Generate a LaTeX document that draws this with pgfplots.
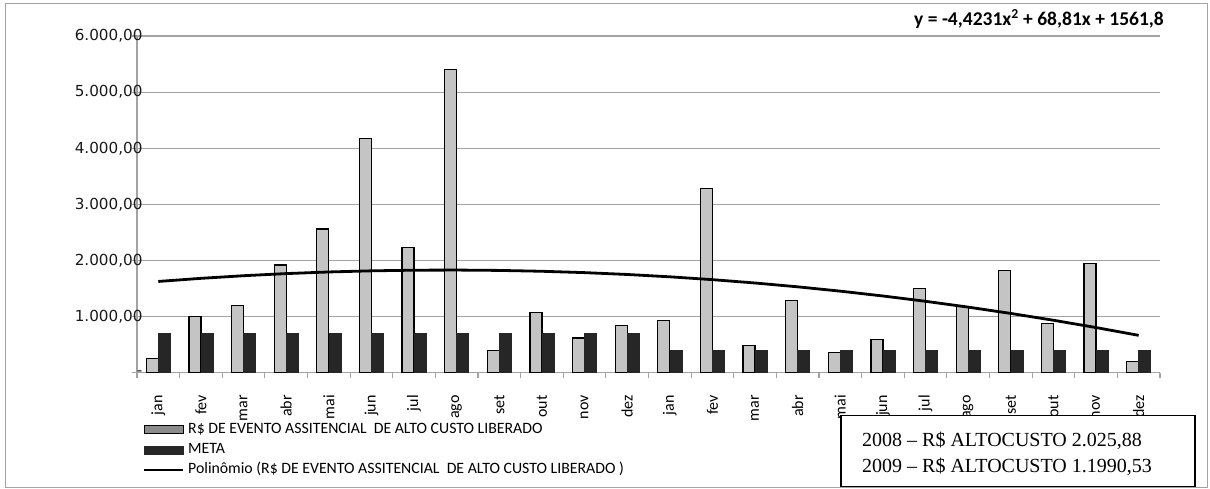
\documentclass[border=0pt]{standalone}
\usepackage{fontspec}
\setmainfont{Carlito}
\newfontfamily\dejavu{DejaVu Sans}
\newfontfamily\timesfont{Liberation Serif}
\usepackage{pgfplots}
\pgfplotsset{compat=1.18}
\definecolor{gridgray}{HTML}{A3A3A3}
\definecolor{metaC}{HTML}{262626}
\definecolor{barC}{HTML}{C4C4C4}
\begin{document}
\begin{tikzpicture}[x=1pt,y=1pt]
\useasboundingbox (0,0) rectangle (1210,-488);
\draw[gridgray, line width=1pt] (5.5,-3) rectangle (1207,-487.5);
\begin{axis}[
  at={(137pt,-372.7pt)}, anchor=south west,
  scale only axis, width=1023pt, height=336.7pt,
  xmin=0.5, xmax=24.5, ymin=0, ymax=6000,
  ybar=0pt, bar width=12pt,
  axis x line*=bottom, axis y line*=left,
  axis line style={gridgray, line width=1.2pt, -},
  tick align=outside,
  major tick length=5pt, minor tick length=5pt,
  xtick={1,...,24},
  xticklabels={jan,fev,mar,abr,mai,jun,jul,ago,set,out,nov,dez,jan,fev,mar,abr,mai,jun,jul,ago,set,out,nov,dez},
  minor xtick={0.5,1.5,...,24.5},
  major x tick style={draw=none},
  minor x tick style={gridgray, line width=1.2pt},
  major y tick style={gridgray, line width=1.2pt},
  xticklabel style={rotate=90, anchor=east, font=\fontsize{16}{19}\selectfont, text=black},
  xticklabel shift=14pt,
  ytick={0,1000,...,6000},
  yticklabels={{-\hspace{18pt}},{1.000,00},{2.000,00},{3.000,00},{4.000,00},{5.000,00},{6.000,00}},
  yticklabel style={font=\dejavu\fontsize{15.2}{18}\selectfont, text=black!90},
  yticklabel shift=-14pt,
  ymajorgrids,
  major grid style={gridgray, line width=1.2pt},
  legend cell align=left,
  legend style={draw=none, fill=none, at={(axis description cs:0.00587,-0.147)}, anchor=north west,
    inner sep=0pt, row sep=5pt, font=\fontsize{15.8}{18}\selectfont,
    nodes={inner sep=0pt, text height=11pt, text depth=4pt},
    /tikz/every odd column/.append style={column sep=4pt}},
]
\addplot[draw=black, line width=1.2pt, fill=barC,
  legend image code/.code={\draw[black, line width=1.1pt, fill=black!45] (0pt,-4pt) rectangle (39pt,4pt);}]
  coordinates {(1,260) (2,1000) (3,1200) (4,1920) (5,2560) (6,4170) (7,2230) (8,5400) (9,390) (10,1080) (11,620) (12,845)
  (13,930) (14,3280) (15,490) (16,1280) (17,365) (18,595) (19,1505) (20,1180) (21,1815) (22,870) (23,1945) (24,205)};
\addlegendentry{R\$ DE EVENTO ASSITENCIAL\ \ DE ALTO CUSTO LIBERADO}
\addplot[draw=metaC, fill=metaC, line width=0.6pt,
  legend image code/.code={\fill[metaC] (0pt,-4pt) rectangle (39pt,4pt);}]
  coordinates {(1,700) (2,700) (3,700) (4,700) (5,700) (6,700) (7,700) (8,700) (9,700) (10,700) (11,700) (12,700)
  (13,400) (14,400) (15,400) (16,400) (17,400) (18,400) (19,400) (20,400) (21,400) (22,400) (23,400) (24,400)};
\addlegendentry{META}
\addplot[sharp plot, draw=black, line width=2.8pt, line join=round, mark=none,
  legend image code/.code={\draw[black, line width=2pt] (0pt,0pt) -- (39pt,0pt);}]
  coordinates {(1,1626.19) (2,1681.73) (3,1728.42) (4,1766.27) (5,1795.27) (6,1815.43) (7,1826.74) (8,1829.20)
  (9,1822.82) (10,1807.59) (11,1783.51) (12,1750.59) (13,1708.83) (14,1658.21) (15,1598.75) (16,1530.45)
  (17,1453.29) (18,1367.30) (19,1272.45) (20,1168.76) (21,1056.22) (22,934.84) (23,804.61) (24,665.53)};
\addlegendentry{Polinômio (R\$ DE EVENTO ASSITENCIAL\ \ DE ALTO CUSTO LIBERADO )}
\end{axis}
\node[anchor=east, font=\bfseries\fontsize{19.5}{22}\selectfont, inner sep=0pt] at (1164,-19)
  {y = -4,4231x\textsuperscript{2} + 68,81x + 1561,8};
\draw[black, line width=1.5pt, fill=white] (841,-415.7) rectangle (1195,-486.7);
\node[anchor=base west, font=\timesfont\fontsize{20}{24}\selectfont, inner sep=0pt] at (862,-446)
  {2008 – R\$ ALTOCUSTO 2.025,88};
\node[anchor=base west, font=\timesfont\fontsize{20}{24}\selectfont, inner sep=0pt] at (862,-472.5)
  {2009 – R\$ ALTOCUSTO 1.1990,53};
\end{tikzpicture}
\end{document}
